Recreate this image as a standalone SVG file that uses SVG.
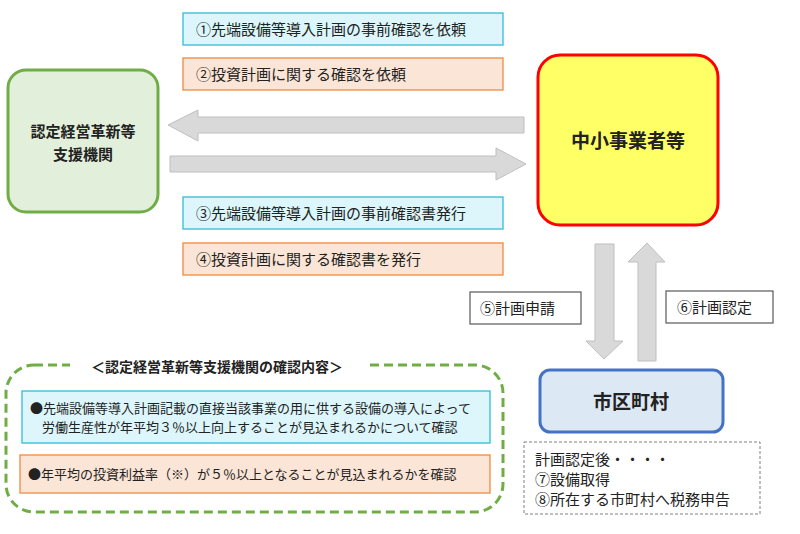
<svg xmlns="http://www.w3.org/2000/svg" width="800" height="534" viewBox="0 0 800 534">
<style>
text{font-family:"Noto Sans CJK JP","Noto Sans",sans-serif;fill:#222}
.l{font-size:15px}
.b{font-weight:bold}
.cy{fill:#dcf6fb;stroke:#33bcd8;stroke-width:1.3}
.or{fill:#fbe5d6;stroke:#f08a3c;stroke-width:1.3}
.ar{fill:#d9d9d9;stroke:#bfbfbf;stroke-width:1}
.wb{fill:#fff;stroke:#595959;stroke-width:1.2}
</style>
<rect width="800" height="534" fill="#fff"/>
<g id="connectors">
<polygon class="ar" points="524,117 198,117 198,110 168,125 198,141 198,133 524,133"/>
<polygon class="ar" points="170,156 496,156 496,148 526,164 496,180 496,172 170,172"/>
<polygon class="ar" points="595,244 614,244 614,341 623,341 604,359 586,341 595,341"/>
<polygon class="ar" points="638,361 656,361 656,262 665,262 647,243 628,262 638,262"/>
</g>
<g id="label1"><rect class="cy" x="183" y="13" width="320" height="32"/><text class="l" x="196" y="35">①先端設備等導入計画の事前確認を依頼</text></g>
<g id="label2"><rect class="or" x="183" y="58" width="320" height="32"/><text class="l" x="196" y="80">②投資計画に関する確認を依頼</text></g>
<g id="label3"><rect class="cy" x="183" y="197" width="320" height="32"/><text class="l" x="196" y="219">③先端設備等導入計画の事前確認書発行</text></g>
<g id="label4"><rect class="or" x="183" y="243" width="320" height="32"/><text class="l" x="196" y="265">④投資計画に関する確認書を発行</text></g>
<g id="label5"><rect class="wb" x="470" y="292" width="111" height="32"/><text class="l" x="480" y="314">⑤計画申請</text></g>
<g id="label6"><rect class="wb" x="666" y="291" width="107" height="32"/><text class="l" x="677" y="313">⑥計画認定</text></g>
<g id="org"><rect x="8" y="70" width="150" height="142" rx="18" fill="#e2efda" stroke="#70ad47" stroke-width="3"/><text class="b" x="83" y="137" font-size="15" text-anchor="middle">認定経営革新等</text><text class="b" x="83" y="160" font-size="15" text-anchor="middle">支援機関</text></g>
<g id="sme"><rect x="538" y="55" width="180" height="170" rx="22" fill="#ffff66" stroke="#ff0000" stroke-width="3"/><text class="b" x="628" y="148" font-size="19" text-anchor="middle">中小事業者等</text></g>
<g id="city"><rect x="540" y="370" width="183" height="62" rx="10" fill="#dde8f5" stroke="#4472c4" stroke-width="3"/><text class="b" x="631" y="409" font-size="19" text-anchor="middle">市区町村</text></g>
<g id="after"><rect x="524" y="442" width="236" height="72" fill="none" stroke="#7f7f7f" stroke-width="1" stroke-dasharray="3,2"/><text class="l" x="535" y="465">計画認定後・・・・</text><text class="l" x="535" y="485">⑦設備取得</text><text class="l" x="535" y="505">⑧所在する市町村へ税務申告</text></g>
<g id="check">
<rect x="6" y="365" width="497" height="147" rx="28" fill="none" stroke="#70ad47" stroke-width="3" stroke-dasharray="9,5"/>
<rect x="70" y="356" width="295" height="20" fill="#fff"/>
<text class="b" x="217" y="372" font-size="14" text-anchor="middle">＜認定経営革新等支援機関の確認内容＞</text>
<rect class="cy" x="22" y="391" width="468" height="52"/>
<text x="30" y="413" font-size="13">●先端設備等導入計画記載の直接当該事業の用に供する設備の導入によって</text>
<text x="42" y="432" font-size="13">労働生産性が年平均３％以上向上することが見込まれるかについて確認</text>
<rect class="or" x="20" y="455" width="470" height="38"/>
<text x="28" y="479" font-size="13">●年平均の投資利益率（※）が５％以上となることが見込まれるかを確認</text>
</g>
</svg>
